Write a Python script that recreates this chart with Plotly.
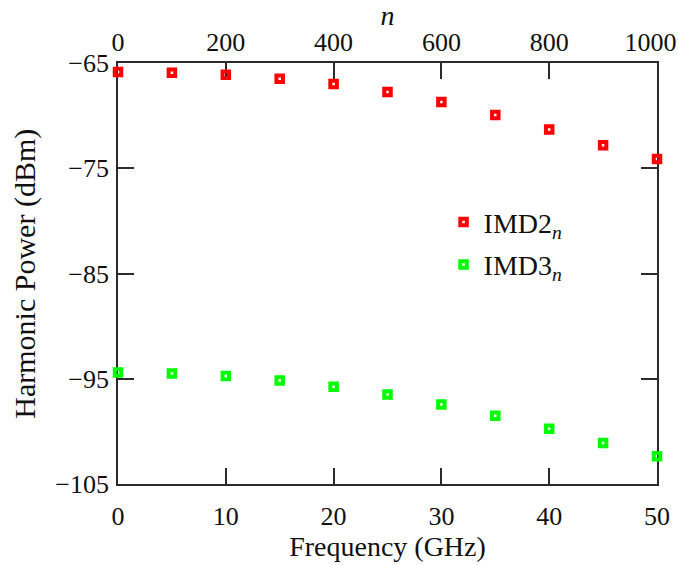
import plotly.graph_objects as go

# Frequency sweep (GHz) and corresponding harmonic index n
freq_ghz = [0, 5, 10, 15, 20, 25, 30, 35, 40, 45, 50]
n_index = [0, 100, 200, 300, 400, 500, 600, 700, 800, 900, 1000]

# Intermodulation distortion powers (dBm)
imd2_dbm = [-65.86, -65.92, -66.11, -66.49, -67.0, -67.76, -68.71, -69.95, -71.32, -72.81, -74.11]
imd3_dbm = [-94.40, -94.49, -94.75, -95.16, -95.76, -96.49, -97.44, -98.52, -99.76, -101.10, -102.37]

x_ticks = [0, 10, 20, 30, 40, 50]
n_ticks = [0, 200, 400, 600, 800, 1000]
y_ticks = [-105, -95, -85, -75, -65]

FONT = "Liberation Serif"
AXIS_COLOR = "#2b2b2b"
TICK_SIZE = 26
TITLE_SIZE = 28

# The last top label is nudged left with trailing no-break spaces so it stays inside the page
n_ticktext = [str(v) for v in n_ticks]
n_ticktext[-1] = n_ticktext[-1] + "\u00a0\u00a0"

fig = go.Figure()

marker_common = dict(symbol="square-open", size=6.5, line=dict(width=4))

fig.add_trace(go.Scatter(
    x=freq_ghz, y=imd2_dbm, mode="markers", name="IMD2<sub><i>n</i></sub>",
    legendgroup="imd2",
    marker=dict(color="#FF0000", **marker_common), cliponaxis=False,
))
fig.add_trace(go.Scatter(
    x=freq_ghz, y=imd3_dbm, mode="markers", name="IMD3<sub><i>n</i></sub>",
    legendgroup="imd3",
    marker=dict(color="#00FF00", **marker_common), cliponaxis=False,
))
# Invisible trace tying the top n axis to the data
fig.add_trace(go.Scatter(
    x=n_index, y=imd2_dbm, xaxis="x2", mode="markers",
    marker=dict(opacity=0), showlegend=False, hoverinfo="skip",
))

axis_common = dict(
    showline=True, linecolor=AXIS_COLOR, linewidth=1.8,
    ticks="inside", ticklen=16, tickwidth=1.8, tickcolor=AXIS_COLOR,
    showgrid=False, zeroline=False, layer="below traces", automargin=False,
    ticklabeloverflow="allow",
    tickfont=dict(family=FONT, size=TICK_SIZE, color="#111"),
)

fig.update_layout(
    width=678, height=565,
    margin=dict(l=118, r=21, t=63, b=81),
    paper_bgcolor="white", plot_bgcolor="white",
    font=dict(family=FONT, size=TICK_SIZE, color="#111"),
    xaxis=dict(
        range=[0, 50], tickvals=x_ticks, ticktext=[str(v) for v in x_ticks],
        title=dict(text="Frequency (GHz)", standoff=3, font=dict(family=FONT, size=TITLE_SIZE)),
        ticklabelstandoff=8,
        **axis_common,
    ),
    xaxis2=dict(
        range=[0, 1000], overlaying="x", side="top", anchor="y",
        tickvals=n_ticks, ticktext=n_ticktext,
        title=dict(text="<i>n</i>", standoff=2, font=dict(family=FONT, size=TITLE_SIZE)),
        **axis_common,
    ),
    yaxis=dict(
        range=[-105, -65], tickvals=y_ticks, mirror="ticks",
        ticklabelstandoff=2,
        **axis_common,
    ),
    legend=dict(
        x=0.604, y=0.681, xanchor="left", yanchor="top",
        bgcolor="rgba(0,0,0,0)", font=dict(family=FONT, size=TITLE_SIZE),
        tracegroupgap=3,
    ),
    annotations=[dict(
        text="Harmonic Power (dBm)", textangle=-90,
        xref="paper", yref="paper", x=-0.174, y=0.5,
        xanchor="center", yanchor="middle", showarrow=False,
        font=dict(family=FONT, size=30, color="#111"),
    )],
)

fig.write_html("out.html")
